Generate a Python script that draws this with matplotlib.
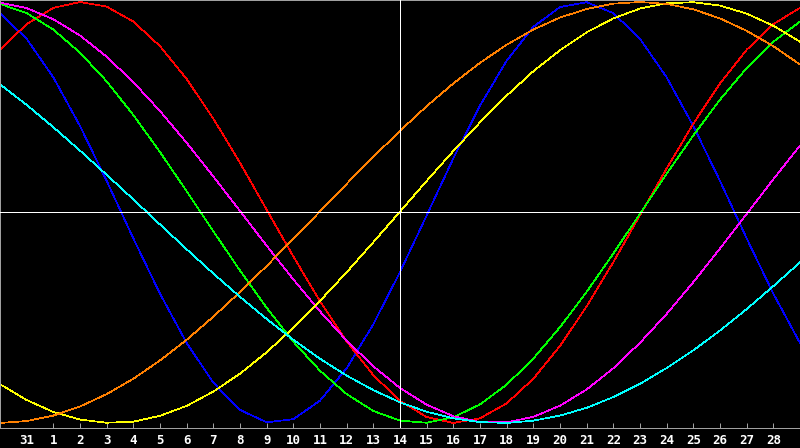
import matplotlib
matplotlib.use('Agg')
import matplotlib.pyplot as plt
import numpy as np

# day positions (0 = left edge), one sample per day
days = list(range(31))
tick_pos = list(range(1, 30))
tick_labels = ['31'] + [str(d) for d in range(1, 29)]
today_pos = 15

# curve values in thousandths
physical = [947, 825, 642, 411, 150, -123, -386, -620, -809, -938, -997,
            -982, -894, -740, -531, -283, -14, 257, 508, 721, 882,
            976, 999, 947, 825, 642, 411, 150, -123, -386, -620]
emotional = [773, 895, 972, 1000, 978, 907, 790, 634, 446, 236, 13,
             -209, -422, -613, -773, -895, -972, -1000, -978, -907, -790,
             -634, -446, -236, -13, 209, 422, 613, 773, 895, 972]
intellectual = [991, 947, 869, 759, 623, 463, 287, 101, -89, -276, -453,
                -614, -752, -863, -943, -989, -999, -973, -912, -818, -694,
                -545, -377, -195, -6, 184, 366, 536, 686, 811, 907]
intuitive = [997, 971, 918, 841, 740, 619, 482, 331, 171, 7, -158,
             -318, -470, -609, -731, -834, -913, -968, -996, -997, -971,
             -918, -841, -740, -619, -482, -331, -171, -7, 158, 318]
aesthetic = [-816, -891, -948, -984, -999, -994, -966, -919, -851, -766, -664,
             -548, -420, -284, -141, 4, 150, 292, 428, 555, 671,
             771, 856, 922, 969, 994, 999, 983, 945, 887, 811]
awareness = [-1000, -991, -965, -922, -863, -790, -703, -605, -495, -378, -254,
             -125, 5, 136, 264, 388, 505, 613, 711, 797, 869,
             926, 967, 992, 1000, 991, 965, 922, 863, 790, 703]
spiritual = [609, 511, 405, 294, 179, 62, -57, -175, -290, -401, -506,
             -605, -695, -775, -844, -902, -947, -978, -996, -1000, -989,
             -965, -928, -877, -814, -739, -655, -561, -459, -350, -237]

series = [
    (physical, '#0000ff'),
    (emotional, '#ff0000'),
    (intellectual, '#00ff00'),
    (intuitive, '#ff00ff'),
    (aesthetic, '#ffff00'),
    (awareness, '#ff8000'),
    (spiritual, '#00ffff'),
]

fig = plt.figure(figsize=(8, 4.48), dpi=100, facecolor='black')
ax = fig.add_axes([0, 20 / 448, 1, 428 / 448])
ax.set_facecolor('black')

px = 72 / 100  # one pixel in points
for vals, col in series:
    ax.plot(days, np.array(vals) / 1000.0, color=col, lw=0.5, antialiased=False)

ax.axhline(0, color='white', lw=0.5, antialiased=False, zorder=5)
ax.axvline(today_pos, color='white', lw=0.5, antialiased=False, zorder=5)

ax.set_xlim(0, 30)
ax.set_ylim(-1.024, 1.0095)

ax.set_xticks(tick_pos)
ax.set_xticklabels(tick_labels, color='white', fontweight='bold',
                   family='DejaVu Sans Mono', fontsize=9)
ax.set_yticks([])
ax.tick_params(axis='x', direction='in', length=5 * px, width=px,
               color='#a0a0a0', pad=4)
ax.xaxis.get_major_ticks()[0].tick1line.set_visible(False)

for side in ['left', 'top', 'bottom']:
    ax.spines[side].set_color('#a0a0a0')
    ax.spines[side].set_linewidth(px)
ax.spines['right'].set_visible(False)

fig.savefig('out.png', dpi=100, facecolor='black')
